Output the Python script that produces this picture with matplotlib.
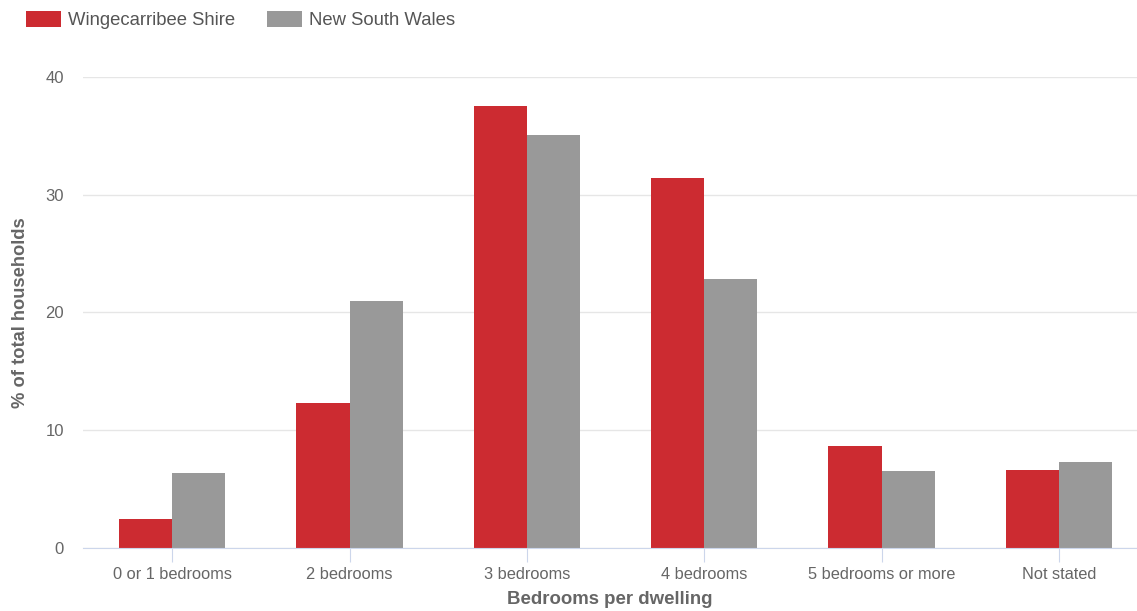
import matplotlib.pyplot as plt
import numpy as np

plt.rcParams['font.family'] = ['Liberation Sans', 'DejaVu Sans']

categories = ["0 or 1 bedrooms", "2 bedrooms", "3 bedrooms", "4 bedrooms",
              "5 bedrooms or more", "Not stated"]
wingecarribee = [2.5, 12.3, 37.5, 31.4, 8.7, 6.6]
nsw = [6.4, 21.0, 35.1, 22.8, 6.5, 7.3]

red = "#cc2b31"
grey = "#999999"

fig = plt.figure(figsize=(11.37, 6.11), dpi=100)
ax = fig.add_axes([0.0734, 0.1031, 0.9266, 0.771])

x = np.arange(len(categories))
w = 0.3
b1 = ax.bar(x - w / 2, wingecarribee, w, color=red, label="Wingecarribee Shire", zorder=3)
b2 = ax.bar(x + w / 2, nsw, w, color=grey, label="New South Wales", zorder=3)

ax.set_xlim(-0.5, 5.44)
ax.set_ylim(0, 40)
ax.set_yticks([0, 10, 20, 30, 40])
ax.set_xticks(x)
ax.set_xticklabels(categories)

# grid + spines, highcharts look
ax.grid(axis="y", color="#e6e6e6", linewidth=1, zorder=0)
for s in ["top", "right", "left"]:
    ax.spines[s].set_visible(False)
ax.spines["bottom"].set_color("#ccd6eb")
ax.spines["bottom"].set_zorder(4)
ax.tick_params(axis="x", length=10, color="#ccd6eb", labelcolor="#666666",
               labelsize=11.8, pad=4)
ax.tick_params(axis="y", length=0, labelcolor="#666666", labelsize=12, pad=14)

ax.set_xlabel("Bedrooms per dwelling", fontsize=13.4, fontweight="bold",
              color="#666666", labelpad=6)
ax.set_ylabel("% of total households", fontsize=13.2, fontweight="bold",
              color="#666666", labelpad=12)

fig.legend(handles=[b1, b2], loc="upper left", bbox_to_anchor=(0.008, 1.01),
           ncol=2, frameon=False, fontsize=13.3, labelcolor="#555555",
           handlelength=1.9, handleheight=1.0, columnspacing=1.7,
           handletextpad=0.4)

fig.savefig("out.png", dpi=100)
